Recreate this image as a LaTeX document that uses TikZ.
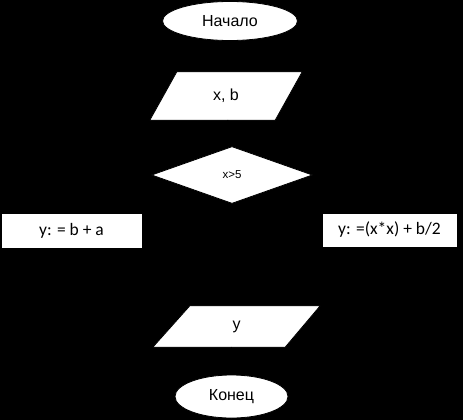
\documentclass[tikz,border=0pt]{standalone}
\usepackage{fontspec}
\setmainfont{Liberation Sans}
\newfontfamily\calfont{Carlito}
\usepackage{tikz}
\usetikzlibrary{
  arrows.meta,
  backgrounds,
  shapes.geometric
}
\definecolor{FcInk}{HTML}{000000}
\definecolor{FcPaper}{HTML}{FFFFFF}
\tikzset{
  >=Latex,
  every picture/.style = {line join=round, line cap=round},
  every node/.style = {text=FcInk},
  terminal/.style = {
    ellipse,
    draw=FcInk,
    fill=FcPaper,
    line width=0.8pt,
    inner sep=0pt,
    font=\fontsize{16}{19}\selectfont
  },
  io block/.style = {
    rectangle,
    inner sep=0pt,
    font=\fontsize{16}{19}\selectfont
  },
  io outline/.style = {draw=FcInk, fill=FcPaper, line width=0.8pt},
  decision/.style = {
    diamond,
    draw=FcInk,
    fill=FcPaper,
    line width=0.8pt,
    inner sep=0pt,
    font=\fontsize{11.5}{14}\selectfont
  },
  process/.style = {
    rectangle,
    draw=FcInk,
    fill=FcPaper,
    line width=0.8pt,
    inner sep=0pt,
    font=\calfont\fontsize{17.5}{20}\selectfont
  },
  flow/.style = {->, draw=FcInk, line width=0.8pt},
}

\begin{document}
\begin{tikzpicture}[x=1pt,y=-1pt]
  \useasboundingbox (0,0) rectangle (463,420);

  \node[terminal, minimum width=135pt, minimum height=39pt] (start) at (230,21) {Начало};
  \node[io block, minimum width=152pt, minimum height=48pt] (input) at (226,96) {x, b};
  \node[decision, minimum width=161pt, minimum height=57pt] (cond) at (232,175) {x>5};
  \node[process, minimum width=141pt, minimum height=35pt] (left) at (71.5,230.5) {y: = b + a};
  \node[process, minimum width=135pt, minimum height=34pt] (right) at (389.5,230) {y: =(x*x) + b/2};
  \node[io block, minimum width=167pt, minimum height=41pt] (output) at (236.5,326.5) {y};
  \node[terminal, minimum width=113pt, minimum height=43pt] (stop) at (231.5,396.5) {Конец};
  \coordinate (merge) at (232,280);

  \begin{scope}[on background layer]
    \fill[FcInk] (0,0) rectangle (463,420);
    % parallelogram outlines behind the texts
    \draw[io outline] (input.south west) -- ([xshift=-27pt]input.south east)
      -- (input.north east) -- ([xshift=27pt]input.north west) -- cycle;
    \draw[io outline] (output.south west) -- ([xshift=-35pt]output.south east)
      -- (output.north east) -- ([xshift=37pt]output.north west) -- cycle;
  \end{scope}

  \draw[flow] (start) -- (input);
  \draw[flow] (input) -- (cond);
  \draw[flow] (cond.west) -| (left.north);
  \draw[flow] (cond.east) -| (right.north);
  \draw[flow] (left.south) |- (merge);
  \draw[flow] (right.south) |- (merge);
  \draw[flow] (merge) -- (merge |- output.north);
  \draw[flow] (output.south -| stop.north) -- (stop.north);
\end{tikzpicture}
\end{document}
